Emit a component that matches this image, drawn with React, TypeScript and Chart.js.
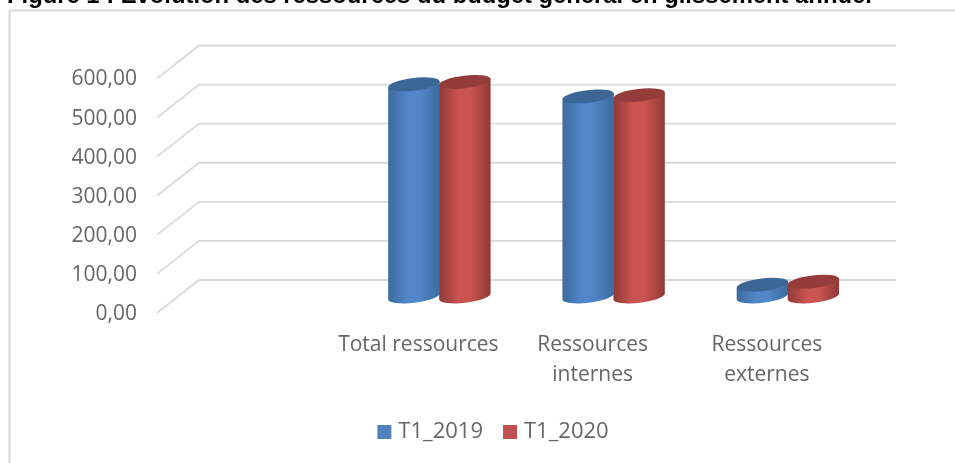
import React, { useEffect, useRef } from "react";
import { Chart, registerables } from "chart.js";

Chart.register(...registerables);

const categories: (string | string[])[] = ["", "Total ressources", ["Ressources", "internes"], ["Ressources", "externes"]];
const seriesNames = ["T1_2019", "T1_2020"];
const t1_2019 = [null, 543, 512, 30];
const t1_2020 = [null, 549, 515, 38];
const yTicks = { min: 0, max: 600, step: 100 };
const titleText = "Figure 1 : Evolution des ressources du budget général en glissement annuel";

const GRID = "#d9d9d9";
const TEXT = "#666666";
const FONT = "'Open Sans', 'Noto Sans', sans-serif";
const DEPTH_X = 21;
const DEPTH_Y = 16.5;
const TILT = (-6.8 * Math.PI) / 180;
const RY = 6.3;

const palettes = [
  { solid: "#4f81bd", edge: "#3d6a9f", mid: "#5286c8", cap: "#3b6696" },
  { solid: "#c0504d", edge: "#8e3a38", mid: "#cb5451", cap: "#943c39" },
];

const frame3d = {
  id: "frame3d",
  afterLayout(chart: any) {
    chart.scales.y.left = 0;
  },
  beforeDraw(chart: any) {
    const { ctx } = chart;
    ctx.save();
    ctx.strokeStyle = GRID;
    ctx.lineWidth = 2;
    ctx.strokeRect(9.5, 10.5, 1000, 600);
    ctx.restore();
  },
  beforeDatasetsDraw(chart: any) {
    const { ctx, scales, chartArea } = chart;
    const y = scales.y;
    ctx.save();
    ctx.strokeStyle = GRID;
    ctx.lineWidth = 1.8;
    y.ticks.forEach((t: any) => {
      const p = y.getPixelForValue(t.value);
      ctx.beginPath();
      ctx.moveTo(chartArea.left - DEPTH_X, p + DEPTH_Y);
      ctx.lineTo(chartArea.left + DEPTH_X, p - DEPTH_Y);
      ctx.lineTo(chartArea.right + DEPTH_X, p - DEPTH_Y);
      ctx.stroke();
    });
    ctx.restore();
  },
  beforeDatasetDraw() {
    return false;
  },
  afterDatasetsDraw(chart: any) {
    const { ctx } = chart;
    chart.data.datasets.forEach((_: any, di: number) => {
      const pal = palettes[di];
      chart.getDatasetMeta(di).data.forEach((el: any, i: number) => {
        if (chart.data.datasets[di].data[i] == null) return;
        const { x, y, base, width } = el;
        const rx = width / 2 + 0.4;
        const cos = Math.cos(TILT);
        const sin = Math.sin(TILT);
        const grad = ctx.createLinearGradient(x - rx, 0, x + rx, 0);
        grad.addColorStop(0, pal.edge);
        grad.addColorStop(0.38, pal.mid);
        grad.addColorStop(0.6, pal.mid);
        grad.addColorStop(1, pal.edge);
        ctx.save();
        ctx.fillStyle = grad;
        ctx.beginPath();
        ctx.moveTo(x - rx * cos, y - rx * sin);
        ctx.lineTo(x - rx * cos, base - rx * sin);
        ctx.ellipse(x, base, rx, RY, TILT, Math.PI, 0, true);
        ctx.lineTo(x + rx * cos, y + rx * sin);
        ctx.closePath();
        ctx.fill();
        ctx.fillStyle = pal.cap;
        ctx.beginPath();
        ctx.ellipse(x, y, rx, RY, TILT, 0, Math.PI * 2);
        ctx.fill();
        ctx.restore();
      });
    });
  },
};

export default function App() {
  const ref = useRef<HTMLCanvasElement>(null);
  useEffect(() => {
    document.body.style.margin = "0";
    const chart = new Chart(ref.current as HTMLCanvasElement, {
      type: "bar",
      data: {
        labels: categories as any,
        datasets: [
          { label: seriesNames[0], data: t1_2019 as any, backgroundColor: palettes[0].solid },
          { label: seriesNames[1], data: t1_2020 as any, backgroundColor: palettes[1].solid },
        ],
      },
      options: {
        animation: false,
        responsive: false,
        layout: { padding: { left: 115, right: 80, top: 62, bottom: 10 } },
        datasets: { bar: { categoryPercentage: 0.585, barPercentage: 1 } },
        plugins: {
          title: { display: false },
          tooltip: { enabled: false },
          legend: {
            position: "bottom",
            labels: {
              font: { family: FONT, size: 22 },
              color: TEXT,
              boxWidth: 6,
              boxHeight: 6,
              padding: 24,
              generateLabels: (c: any) =>
                c.data.datasets.map((d: any, i: number) => ({
                  text: d.label,
                  fillStyle: d.backgroundColor,
                  strokeStyle: d.backgroundColor,
                  lineWidth: 8,
                  datasetIndex: i,
                  hidden: false,
                  fontColor: TEXT,
                })),
            },
          },
        },
        scales: {
          x: {
            grid: { display: false, drawTicks: false },
            border: { display: false },
            afterFit: (s: any) => {
              s.height = 100.5;
            },
            ticks: {
              autoSkip: false,
              maxRotation: 0,
              minRotation: 0,
              padding: 34,
              labelOffset: -DEPTH_X,
              color: TEXT,
              font: { family: FONT, size: 21, lineHeight: 1.4 },
            },
          },
          y: {
            min: yTicks.min,
            max: yTicks.max,
            grid: { display: false, drawTicks: false },
            border: { display: false },
            afterFit: (s: any) => {
              s.width = 63;
            },
            ticks: {
              stepSize: yTicks.step,
              padding: 41,
              labelOffset: DEPTH_Y + 1,
              color: TEXT,
              font: { family: FONT, size: 21 },
              callback: (v: any) => Number(v).toFixed(2).replace(".", ","),
            },
          },
        },
      },
      plugins: [frame3d],
    } as any);
    return () => chart.destroy();
  }, []);
  return (
    <div style={{ position: "absolute", left: 0, top: 0, width: 955, height: 463, overflow: "hidden", background: "#fff" }}>
      <canvas ref={ref} width={955} height={463} style={{ display: "block" }} />
      <div
        style={{
          position: "absolute",
          left: 7,
          top: -19,
          whiteSpace: "nowrap",
          font: "bold 23.8px 'Liberation Sans', Arial, sans-serif",
          lineHeight: "28px",
          color: "#000",
        }}
      >
        {titleText}
      </div>
    </div>
  );
}
